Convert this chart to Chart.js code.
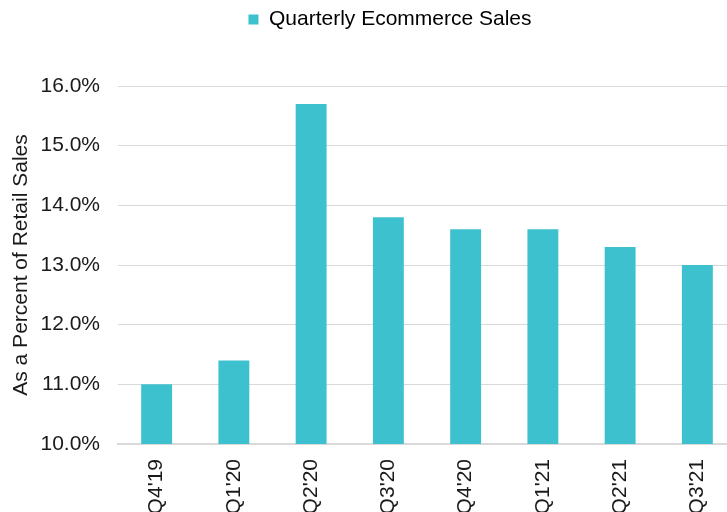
<!DOCTYPE html>
<html>
<head>
<meta charset="utf-8">
<script src="https://cdn.jsdelivr.net/npm/chart.js@4.4.1/dist/chart.umd.min.js"></script>
<style>
  html, body { margin: 0; padding: 0; overflow: hidden; background: #fff; }
  #wrap { width: 736px; height: 560px; }
</style>
</head>
<body>
<div id="wrap"><canvas id="grafico" width="736" height="560"></canvas></div>
<script>
// Datos
const trimestres = ["Q4'19", "Q1'20", "Q2'20", "Q3'20", "Q4'20", "Q1'21", "Q2'21", "Q3'21"];
const ventasPct = [11.0, 11.4, 15.7, 13.8, 13.6, 13.6, 13.3, 13.0];
const ejeMin = 10;
const ejeMax = 16;

const fuente = "'Liberation Sans', Arial, sans-serif";

// Ajustar alto y posición de la leyenda
const ajusteLeyenda = {
    id: 'ajusteLeyenda',
    beforeInit(chart) {
        const fitOriginal = chart.legend.fit;
        chart.legend.fit = function () {
            fitOriginal.bind(chart.legend)();
            this.height = 86;
        };
    },
    afterLayout(chart) {
        chart.legend.left += 22;
        chart.legend.right += 22;
    }
};

new Chart(document.getElementById('grafico'), {
    type: 'bar',
    data: {
        labels: trimestres,
        datasets: [{
            label: 'Quarterly Ecommerce Sales',
            data: ventasPct,
            backgroundColor: '#3EC1CF',
            borderWidth: 0,
            categoryPercentage: 1,
            barPercentage: 0.4
        }]
    },
    options: {
        responsive: false,
        animation: false,
        layout: { padding: 0 },
        plugins: {
            legend: {
                display: true,
                position: 'top',
                labels: {
                    boxWidth: 10,
                    boxHeight: 10,
                    color: '#000',
                    font: { family: fuente, size: 21 },
                    padding: 9
                }
            },
            tooltip: { enabled: false }
        },
        scales: {
            y: {
                min: ejeMin,
                max: ejeMax,
                afterFit(scale) { scale.width = 118; },
                ticks: {
                    stepSize: 1,
                    color: '#1a1a1a',
                    padding: 18,
                    font: { family: fuente, size: 21 },
                    callback: v => v.toFixed(1) + '%'
                },
                grid: { color: '#d9d9d9', drawTicks: false, lineWidth: 1 },
                border: { display: false },
                title: {
                    display: true,
                    text: 'As a Percent of Retail Sales',
                    color: '#1a1a1a',
                    font: { family: fuente, size: 21 },
                    padding: { top: 9, bottom: 0 }
                }
            },
            x: {
                afterFit(scale) { scale.height = 116; },
                ticks: {
                    minRotation: 90,
                    maxRotation: 90,
                    color: '#1a1a1a',
                    padding: 7,
                    font: { family: fuente, size: 21 }
                },
                grid: { display: false },
                border: { display: true, color: '#d9d9d9', width: 2 }
            }
        }
    },
    plugins: [ajusteLeyenda]
});
</script>
</body>
</html>
